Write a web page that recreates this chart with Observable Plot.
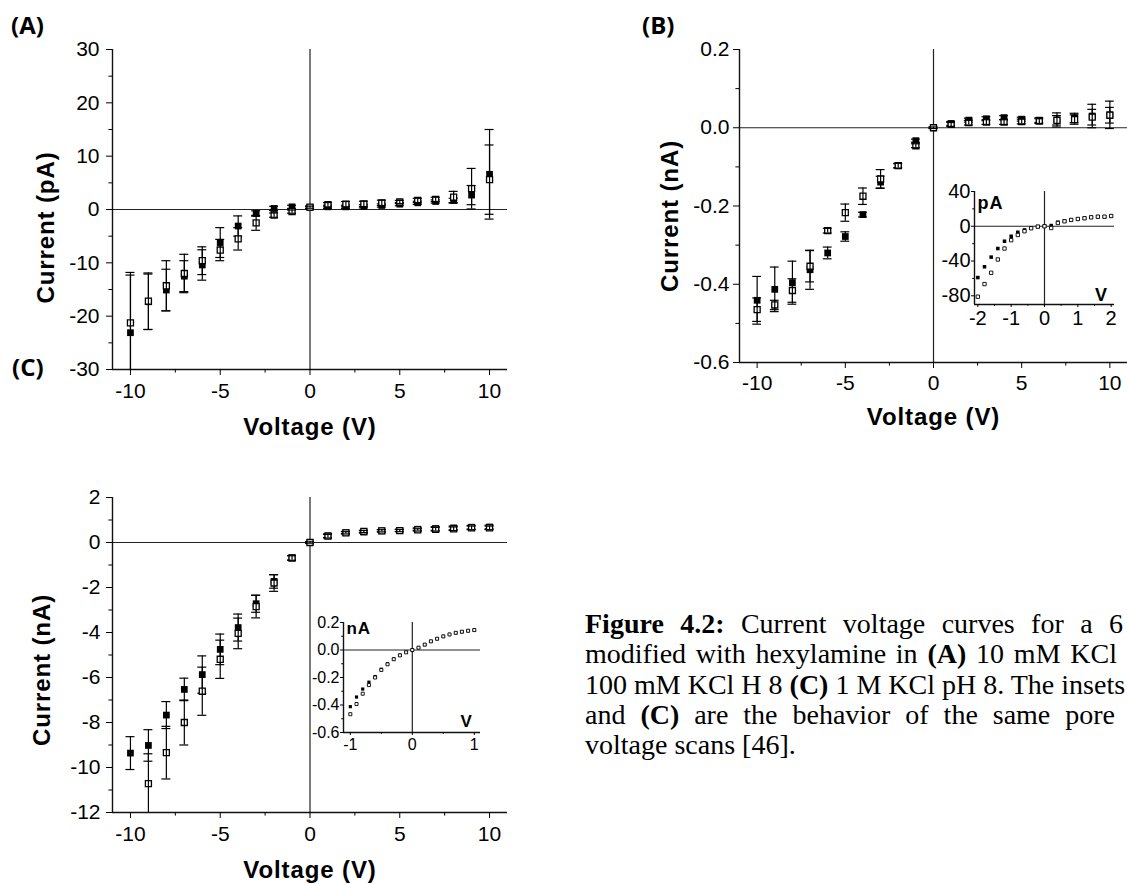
<!DOCTYPE html>
<html><head><meta charset="utf-8">
<script src="https://cdn.jsdelivr.net/npm/d3@7"></script>
<script src="https://cdn.jsdelivr.net/npm/@observablehq/plot@0.6"></script>
<style>
html,body{margin:0;padding:0;background:#fff;}
#page{position:relative;width:1127px;height:884px;overflow:hidden;background:#fff;}
.panel{position:absolute;}
.panel svg{overflow:visible;max-width:none;display:block;}
.panel svg g[font-weight="bold"]{letter-spacing:0.9px;}
.plabel{position:absolute;font-family:"Open Sans",sans-serif;font-weight:bold;font-size:24px;line-height:1;}
.cap{position:absolute;left:585px;font-family:"Liberation Serif","Times New Roman",serif;font-size:28px;line-height:30px;white-space:nowrap;color:#000;}
.just{text-align:justify;text-align-last:justify;white-space:normal;}
</style></head>
<body>
<div id="page">
  <div class="plabel" style="left:11px;top:13px">(A)</div>
  <div class="plabel" style="left:642px;top:13px">(B)</div>
  <div class="plabel" style="left:12px;top:355px">(C)</div>
  <div class="cap just" style="top:609px;width:538px"><b>Figure 4.2:</b> Current voltage curves for a 6</div>
  <div class="cap just" style="top:639px;width:532px">modified with hexylamine in <b>(A)</b> 10 mM KCl</div>
  <div class="cap" style="top:670px">100 mM KCl H 8 <b>(C)</b> 1 M KCl pH 8. The insets</div>
  <div class="cap just" style="top:700px;width:530px">and <b>(C)</b> are the behavior of the same pore</div>
  <div class="cap" style="top:730px">voltage scans [46].</div>
</div>
<script>
// ---------- data ----------
const voltages = [-10,-9,-8,-7,-6,-5,-4,-3,-2,-1,0,1,2,3,4,5,6,7,8,9,10];

// Panel A (pA)
const aFilled    = [-23.1,-17.3,-15.1,-12.5,-10.4,-6.2,-3.1,-0.75,0.2,0.5,0.4,0.5,0.5,0.6,0.75,1.0,1.25,1.5,1.7,2.7,6.6];
const aFilledErr = [10.8,5.2,3.9,2.9,2.85,2.8,1.9,0.5,0.4,0.3,0.2,0.3,0.3,0.3,0.3,0.3,0.3,0.3,0.4,1.8,8.4];
const aOpen      = [-21.25,-17.2,-14.3,-12.0,-9.6,-7.6,-5.5,-2.5,-1.05,-0.4,0.44,0.9,1.0,1.05,1.25,1.4,1.7,1.9,2.3,3.9,5.6];
const aOpenErr   = [9.45,5.3,4.7,3.6,2.6,2.0,2.1,1.4,0.4,0.3,0.2,0.4,0.5,0.5,0.5,0.3,0.4,0.4,1.1,3.8,6.5];

// Panel B (nA)
const bFilled    = [-0.441,-0.413,-0.396,-0.363,-0.32,-0.278,-0.222,-0.139,-0.097,-0.033,0,0.011,0.0195,0.023,0.026,0.022,0.0195,0.02,0.025,0.03,0.033];
const bFilledErr = [0.061,0.057,0.055,0.05,0.015,0.012,0.006,0.015,0.005,0.004,0.002,0.005,0.005,0.005,0.005,0.005,0.006,0.018,0.012,0.03,0.035];
const bOpen      = [-0.465,-0.453,-0.416,-0.354,-0.263,-0.217,-0.175,-0.131,-0.097,-0.046,0,0.0085,0.013,0.0145,0.0145,0.016,0.017,0.019,0.021,0.027,0.032];
const bOpenErr   = [0.03,0.012,0.03,0.04,0.006,0.022,0.021,0.024,0.006,0.005,0.002,0.005,0.006,0.006,0.006,0.006,0.006,0.012,0.012,0.02,0.02];

// Panel C (nA)
const cFilled    = [-9.36,-9.02,-7.67,-6.53,-5.87,-4.75,-3.78,-2.72,-1.73,-0.68,0,0.3,0.44,0.47,0.52,0.54,0.59,0.62,0.65,0.68,0.69];
const cFilledErr = [0.73,0.7,0.6,0.5,0.83,0.68,0.6,0.38,0.3,0.1,0.03,0.08,0.05,0.05,0.05,0.05,0.06,0.08,0.08,0.08,0.08];
const cOpen      = [null,-10.72,-9.34,-8.0,-6.61,-5.19,-4.04,-2.85,-1.8,-0.69,0,0.28,0.43,0.49,0.52,0.53,0.56,0.59,0.61,0.65,0.65];
const cOpenErr   = [null,1.33,1.17,1.0,1.07,0.85,0.68,0.5,0.37,0.1,0.03,0.08,0.05,0.05,0.05,0.05,0.05,0.08,0.08,0.08,0.08];

// Inset B (pA vs V)
const insetBVolts  = [-2,-1.8,-1.6,-1.4,-1.2,-1,-0.8,-0.6,-0.4,-0.2,0,0.2,0.4,0.6,0.8,1,1.2,1.4,1.6,1.8,2];
const insetBFilled = [-59,-46.6,-35.5,-25.6,-17.2,-11.5,-6.9,-4.2,-2,-0.4,0,0.8,4.6,5.9,7.4,8.4,9.2,10.3,11,11,11.8];
const insetBOpen   = [-81,-66.5,-53.5,-38.2,-25.6,-16,-10,-5.7,-2.3,-0.4,0,-2,3.8,5.7,7.3,8.4,9.2,10.3,11,11,11.8];

// Inset C (nA vs V)
const insetCVolts  = [-1,-0.9,-0.8,-0.7,-0.6,-0.5,-0.4,-0.3,-0.2,-0.1,0,0.1,0.2,0.3,0.4,0.5,0.6,0.7,0.8,0.9,1];
const insetCFilled = [-0.412,-0.342,-0.284,-0.234,-0.193,-0.14,-0.1,-0.065,-0.037,-0.016,0,0.017,0.039,0.063,0.082,0.099,0.113,0.125,0.133,0.14,0.145];
const insetCOpen   = [-0.467,-0.393,-0.318,-0.255,-0.2,-0.145,-0.104,-0.067,-0.039,-0.017,0,0.017,0.039,0.063,0.082,0.099,0.113,0.125,0.133,0.14,0.145];

// tick labels
const mainXTicks = [-10,-5,0,5,10];
const mainXMinor = [-7.5,-2.5,2.5,7.5];
const aYTicks = [-30,-20,-10,0,10,20,30];
const aYMinor = [-25,-15,-5,5,15,25];
const bYTicks = [-0.6,-0.4,-0.2,0,0.2];
const bYMinor = [-0.5,-0.3,-0.1,0.1];
const cYTicks = [-12,-10,-8,-6,-4,-2,0,2];
const cYMinor = [-11,-9,-7,-5,-3,-1,1];
const ibXTicks = [-2,-1,0,1,2], ibXMinor = [-1.5,-0.5,0.5,1.5];
const ibYTicks = [-80,-40,0,40], ibYMinor = [-60,-20,20];
const icXTicks = [-1,0,1], icXMinor = [-0.5,0.5];
const icYTicks = [-0.6,-0.4,-0.2,0,0.2], icYMinor = [-0.5,-0.3,-0.1,0.1];

// ---------- drawing ----------
const SANS = "Liberation Sans, Arial, Helvetica, sans-serif";
const rows = (xs, ys, es) => xs.map((x, i) => ({x, y: ys[i], e: es ? es[i] : 0})).filter(d => d.y != null);
const hy = d => String(d);
const f1 = d => d.toFixed(1);

function frameMarks(o) {
  return [
    Plot.ruleY([0], {stroke: "#222", strokeWidth: 1.2}),
    Plot.ruleX([0], {stroke: "#222", strokeWidth: 1.2}),
    Plot.ruleX([o.xDomain[0]], {stroke: "#111", strokeWidth: 1.4}),
    Plot.ruleY([o.yDomain[0]], {stroke: "#111", strokeWidth: 1.4}),
    Plot.axisY({ticks: o.yTicks, tickSize: o.tick, tickPadding: o.yPad, tickFormat: o.yFmt, label: null, fontSize: o.font}),
    Plot.axisY({ticks: o.yMinor, tickSize: o.tick * 0.6, tickFormat: () => "", label: null}),
    Plot.axisX({ticks: o.xTicks, tickSize: o.tick, tickPadding: o.xPad, tickFormat: hy, label: null, fontSize: o.font}),
    Plot.axisX({ticks: o.xMinor, tickSize: o.tick * 0.6, tickFormat: () => "", label: null})
  ];
}

function mainPanel(o) {
  const F = rows(o.x, o.filled, o.filledErr), O = rows(o.x, o.open, o.openErr);
  const bars = D => [
    Plot.ruleX(D, {x: "x", y1: d => d.y - d.e, y2: d => d.y + d.e, stroke: "#000", strokeWidth: 1.2, clip: true}),
    Plot.ruleY(D, {y: d => d.y + d.e, x1: d => d.x - o.cap, x2: d => d.x + o.cap, stroke: "#000", strokeWidth: 1.2, clip: true}),
    Plot.ruleY(D, {y: d => d.y - d.e, x1: d => d.x - o.cap, x2: d => d.x + o.cap, stroke: "#000", strokeWidth: 1.2, clip: true})
  ];
  return Plot.plot({
    width: o.width, height: o.height,
    marginTop: o.mt, marginRight: o.mr, marginBottom: o.mb, marginLeft: o.ml,
    x: {domain: o.xDomain, label: null},
    y: {domain: o.yDomain, label: null},
    style: {fontFamily: SANS, fontSize: "21px", color: "#000", background: "transparent", overflow: "visible"},
    marks: [
      ...frameMarks({...o, tick: 6, font: 21}),
      ...bars(F),
      Plot.dot(F, {x: "x", y: "y", symbol: "square", r: 3.8, fill: "#000", clip: true}),
      Plot.dot(O, {x: "x", y: "y", symbol: "square", r: 3.4, fill: "#fff", stroke: "#000", strokeWidth: 1.3, clip: true}),
      ...bars(O),
      Plot.text([o.yLabel], {text: d => d, frameAnchor: "left", dx: o.yLabelDx, dy: o.yLabelDy, rotate: -90,
        textAnchor: "middle", lineAnchor: "middle", fontSize: 24, fontWeight: "bold", fontFamily: SANS}),
      Plot.text([o.xLabel], {text: d => d, frameAnchor: "bottom", dy: o.xLabelDy,
        textAnchor: "middle", lineAnchor: "middle", fontSize: 24, fontWeight: "bold", fontFamily: SANS})
    ]
  });
}

function insetPanel(o) {
  const F = rows(o.x, o.filled), O = rows(o.x, o.open);
  return Plot.plot({
    width: o.width, height: o.height,
    marginTop: o.mt, marginRight: o.mr, marginBottom: o.mb, marginLeft: o.ml,
    x: {domain: o.xDomain, label: null},
    y: {domain: o.yDomain, label: null},
    style: {fontFamily: SANS, fontSize: o.font + "px", color: "#000", background: "transparent", overflow: "visible"},
    marks: [
      ...frameMarks({...o, tick: 3}),
      Plot.dot(F, {x: "x", y: "y", symbol: "square", r: o.r, fill: "#000"}),
      Plot.dot(O, {x: "x", y: "y", symbol: "square", r: o.r * 0.95, fill: "#fff", stroke: "#000", strokeWidth: 0.9}),
      Plot.text([o.unit], {text: d => d, frameAnchor: "top-left", dx: 3, dy: o.unitDy, textAnchor: "start", lineAnchor: "middle",
        fontSize: o.labelFont, fontWeight: "bold", fontFamily: SANS}),
      Plot.text(["V"], {text: d => d, frameAnchor: "bottom-right", dx: o.vDx, dy: o.vDy, textAnchor: "middle", lineAnchor: "middle",
        fontSize: o.labelFont, fontWeight: "bold", fontFamily: SANS})
    ]
  });
}

function place(node, left, top) {
  const div = document.createElement("div");
  div.className = "panel";
  div.style.left = left + "px";
  div.style.top = top + "px";
  div.appendChild(node);
  document.getElementById("page").appendChild(div);
}

place(mainPanel({
  width: 520, height: 450, ml: 112, mr: 13, mt: 49, mb: 81,
  xDomain: [-11, 11], yDomain: [-30, 30], cap: 0.25,
  x: voltages, filled: aFilled, filledErr: aFilledErr, open: aOpen, openErr: aOpenErr,
  xTicks: mainXTicks, xMinor: mainXMinor, yTicks: aYTicks, yMinor: aYMinor, yFmt: hy, yPad: 7, xPad: 8,
  yLabel: "Current (pA)", yLabelDx: -66, yLabelDy: 18, xLabel: "Voltage (V)", xLabelDy: 58
}), 0, 0);

place(mainPanel({
  width: 527, height: 440, ml: 139, mr: 0, mt: 49, mb: 78,
  xDomain: [-11, 11], yDomain: [-0.6, 0.2], cap: 0.25,
  x: voltages, filled: bFilled, filledErr: bFilledErr, open: bOpen, openErr: bOpenErr,
  xTicks: mainXTicks, xMinor: mainXMinor, yTicks: bYTicks, yMinor: bYMinor, yFmt: f1, yPad: 4, xPad: 7,
  yLabel: "Current (nA)", yLabelDx: -69, yLabelDy: 10, xLabel: "Voltage (V)", xLabelDy: 55
}), 600, 0);

place(mainPanel({
  width: 520, height: 444, ml: 112, mr: 13, mt: 57, mb: 72,
  xDomain: [-11, 11], yDomain: [-12, 2], cap: 0.25,
  x: voltages, filled: cFilled, filledErr: cFilledErr, open: cOpen, openErr: cOpenErr,
  xTicks: mainXTicks, xMinor: mainXMinor, yTicks: cYTicks, yMinor: cYMinor, yFmt: hy, yPad: 6, xPad: 8,
  yLabel: "Current (nA)", yLabelDx: -70, yLabelDy: 15, xLabel: "Voltage (V)", xLabelDy: 58
}), 0, 440);

place(insetPanel({
  width: 195, height: 155, ml: 44, mr: 11, mt: 16, mb: 26,
  xDomain: [-2.1, 2.1], yDomain: [-90, 40], font: 20, r: 2.0,
  x: insetBVolts, filled: insetBFilled, open: insetBOpen,
  xTicks: ibXTicks, xMinor: ibXMinor, yTicks: ibYTicks, yMinor: ibYMinor, yFmt: hy, yPad: 1, xPad: 3,
  unit: "pA", unitDy: 12, labelFont: 18, vDx: -13, vDy: -9
}), 930, 175);

place(insetPanel({
  width: 190, height: 150, ml: 43, mr: 10, mt: 17, mb: 23,
  xDomain: [-1.11, 1.1], yDomain: [-0.6, 0.2], font: 16, r: 1.8,
  x: insetCVolts, filled: insetCFilled, open: insetCOpen,
  xTicks: icXTicks, xMinor: icXMinor, yTicks: icYTicks, yMinor: icYMinor, yFmt: f1, yPad: 1, xPad: 3,
  unit: "nA", unitDy: 6, labelFont: 17, vDx: -14, vDy: -11
}), 300, 605);
</script>
</body></html>
